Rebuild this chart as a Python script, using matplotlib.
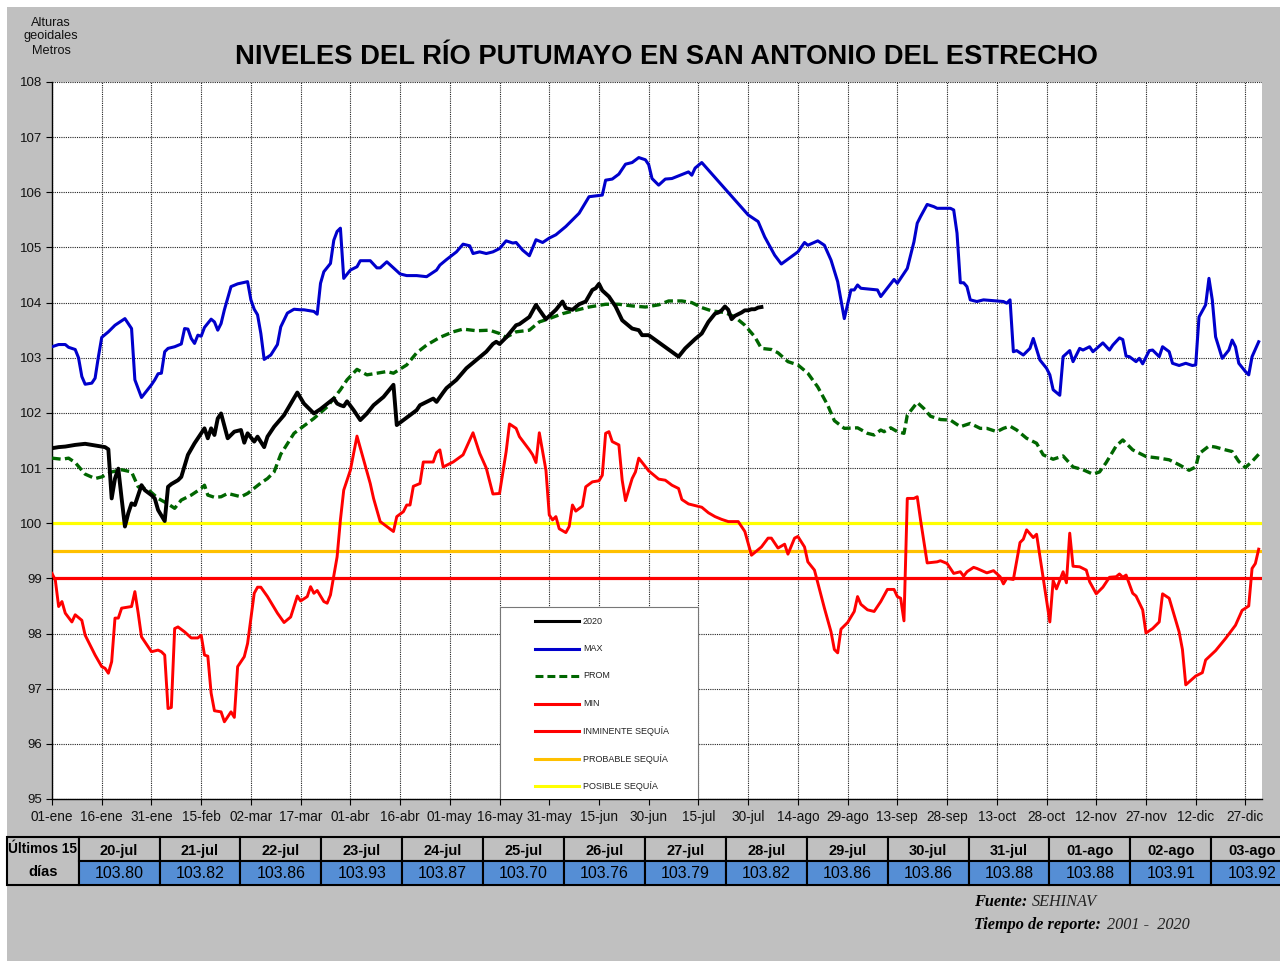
import matplotlib
matplotlib.use("Agg")
import matplotlib.pyplot as plt
from matplotlib.patches import Rectangle

plt.rcParams['font.family'] = ['Liberation Sans', 'DejaVu Sans']

# ---- data (day of year 0 = 01-ene, levels in metres) ----
tick_labels = ['01-ene', '16-ene', '31-ene', '15-feb', '02-mar', '17-mar', '01-abr', '16-abr',
               '01-may', '16-may', '31-may', '15-jun', '30-jun', '15-jul', '30-jul', '14-ago',
               '29-ago', '13-sep', '28-sep', '13-oct', '28-oct', '12-nov', '27-nov', '12-dic', '27-dic']

max_days = [0, 2, 4, 5, 7, 8, 9, 10, 12, 13, 14, 15, 17, 19, 22, 24, 25, 27, 30, 31, 32, 33, 34, 35, 37,
            39, 40, 41, 42, 43, 44, 45, 46, 48, 49, 50, 51, 52, 54, 56, 59, 60, 61, 62, 63, 64, 66, 68,
            69, 71, 73, 75, 76, 79, 80, 81, 82, 84, 85, 86, 87, 88, 90, 92, 93, 96, 98, 99, 101, 105,
            107, 110, 113, 116, 117, 119, 122, 124, 126, 127, 129, 131, 133, 135, 137, 139, 140, 142,
            144, 146, 148, 150, 152, 155, 159, 162, 166, 167, 169, 171, 173, 175, 177, 179, 180, 181,
            183, 185, 187, 192, 193, 194, 196, 210, 213, 215, 218, 220, 225, 227, 228, 231, 233, 235,
            237, 239, 241, 242, 243, 244, 249, 250, 254, 255, 258, 260, 261, 262, 264, 266, 267, 271,
            272, 273, 274, 275, 276, 277, 279, 281, 287, 288, 289, 290, 291, 293, 295, 296, 298, 300,
            301, 302, 304, 305, 307, 308, 310, 311, 313, 314, 317, 319, 320, 322, 323, 324, 325, 327,
            328, 329, 331, 332, 334, 335, 337, 338, 340, 342, 344, 345, 346, 348, 349, 350, 351, 353,
            355, 356, 357, 358, 360, 361, 362, 364]
max_vals = [103.20, 103.24, 103.24, 103.19, 103.15, 103.00, 102.66, 102.52, 102.54, 102.63, 103.02,
            103.37, 103.47, 103.59, 103.71, 103.53, 102.60, 102.28, 102.51, 102.60, 102.71, 102.72,
            103.11, 103.17, 103.20, 103.25, 103.53, 103.52, 103.35, 103.26, 103.41, 103.39, 103.55,
            103.70, 103.65, 103.50, 103.62, 103.87, 104.29, 104.34, 104.38, 104.05, 103.88, 103.78,
            103.44, 102.97, 103.05, 103.24, 103.56, 103.81, 103.88, 103.87, 103.87, 103.84, 103.79,
            104.35, 104.56, 104.71, 105.13, 105.29, 105.35, 104.44, 104.59, 104.65, 104.76, 104.76,
            104.63, 104.63, 104.74, 104.52, 104.49, 104.49, 104.47, 104.59, 104.68, 104.78, 104.92,
            105.06, 105.03, 104.89, 104.92, 104.89, 104.92, 104.98, 105.12, 105.08, 105.09, 104.95,
            104.85, 105.14, 105.09, 105.17, 105.23, 105.38, 105.62, 105.92, 105.95, 106.22, 106.24,
            106.33, 106.51, 106.54, 106.63, 106.59, 106.50, 106.25, 106.13, 106.24, 106.25, 106.37,
            106.31, 106.44, 106.54, 105.59, 105.47, 105.19, 104.86, 104.70, 104.92, 105.09, 105.04,
            105.12, 105.04, 104.77, 104.38, 103.71, 104.23, 104.23, 104.32, 104.26, 104.23, 104.11,
            104.42, 104.35, 104.62, 105.10, 105.44, 105.56, 105.78, 105.74, 105.71, 105.71, 105.68,
            105.26, 104.36, 104.36, 104.29, 104.05, 104.02, 104.05, 104.02, 103.99, 104.05, 103.11,
            103.13, 103.05, 103.17, 103.35, 102.96, 102.81, 102.69, 102.42, 102.32, 103.02, 103.13,
            102.93, 103.17, 103.14, 103.20, 103.11, 103.27, 103.14, 103.23, 103.36, 103.33, 103.03,
            103.02, 102.93, 102.99, 102.89, 103.13, 103.14, 103.02, 103.20, 103.11, 102.90, 102.86,
            102.90, 102.86, 102.87, 103.74, 103.96, 104.44, 104.05, 103.38, 102.99, 103.14, 103.32,
            103.20, 102.90, 102.75, 102.69, 103.02, 103.29]

prom_days = [0, 3, 5, 7, 10, 13, 15, 18, 21, 24, 26, 29, 32, 35, 37, 39, 42, 45, 46, 47, 49, 51, 53, 55,
             57, 59, 63, 65, 67, 69, 73, 75, 79, 83, 87, 89, 92, 95, 98, 101, 103, 107, 110, 113, 117,
             121, 124, 128, 132, 135, 137, 140, 144, 147, 150, 154, 158, 162, 167, 171, 175, 179, 183,
             186, 190, 193, 196, 199, 203, 206, 209, 212, 214, 217, 219, 222, 225, 228, 231, 234, 236,
             239, 243, 246, 248, 250, 251, 253, 255, 257, 258, 261, 263, 265, 268, 271, 274, 277, 280,
             282, 285, 287, 289, 291, 294, 297, 299, 302, 305, 308, 311, 314, 316, 318, 321, 323, 326,
             330, 334, 337, 340, 343, 345, 346, 349, 351, 354, 356, 358, 360, 362, 364]
prom_vals = [101.18, 101.16, 101.18, 101.10, 100.89, 100.81, 100.84, 100.93, 100.97, 100.93, 100.66,
             100.61, 100.45, 100.35, 100.27, 100.42, 100.51, 100.63, 100.69, 100.51, 100.47, 100.48,
             100.54, 100.51, 100.48, 100.54, 100.73, 100.81, 100.93, 101.25, 101.63, 101.72, 101.90,
             102.11, 102.42, 102.60, 102.79, 102.69, 102.72, 102.75, 102.72, 102.87, 103.09, 103.23,
             103.37, 103.47, 103.52, 103.49, 103.50, 103.44, 103.37, 103.47, 103.50, 103.65, 103.71,
             103.80, 103.86, 103.92, 103.97, 103.97, 103.94, 103.92, 103.96, 104.03, 104.03, 104.00,
             103.91, 103.85, 103.82, 103.74, 103.59, 103.38, 103.17, 103.15, 103.09, 102.93, 102.87,
             102.72, 102.47, 102.14, 101.86, 101.72, 101.73, 101.63, 101.60, 101.69, 101.66, 101.73,
             101.66, 101.63, 101.96, 102.19, 102.08, 101.94, 101.88, 101.87, 101.75, 101.81, 101.72,
             101.72, 101.66, 101.72, 101.76, 101.69, 101.54, 101.45, 101.24, 101.16, 101.22, 101.02,
             100.97, 100.89, 100.93, 101.10, 101.40, 101.51, 101.33, 101.21, 101.18, 101.15, 101.06,
             100.96, 101.02, 101.26, 101.40, 101.38, 101.33, 101.30, 101.12, 101.01, 101.12, 101.25]

min_days = [0, 1, 2, 3, 4, 6, 7, 9, 10, 13, 15, 16, 17, 18, 19, 20, 21, 24, 25, 26, 27, 30, 32, 33, 34,
            35, 36, 37, 38, 40, 42, 44, 45, 46, 47, 48, 49, 51, 52, 54, 55, 56, 58, 59, 61, 62, 63, 65,
            68, 70, 72, 74, 75, 77, 78, 79, 80, 82, 83, 84, 86, 87, 88, 90, 92, 94, 96, 97, 99, 101, 103,
            104, 106, 107, 108, 109, 111, 112, 115, 116, 117, 118, 121, 124, 127, 129, 131, 133, 135,
            137, 138, 140, 141, 144, 145, 146, 147, 149, 150, 151, 152, 153, 155, 156, 157, 158, 160,
            161, 163, 165, 166, 167, 168, 169, 171, 172, 173, 175, 176, 177, 180, 181, 183, 185, 187,
            189, 190, 192, 194, 196, 198, 200, 202, 204, 207, 209, 211, 214, 216, 217, 219, 221, 222,
            224, 225, 227, 228, 230, 233, 235, 236, 237, 238, 240, 242, 243, 244, 246, 248, 250, 252,
            254, 255, 256, 257, 258, 260, 261, 262, 264, 267, 268, 270, 272, 274, 275, 276, 278, 279,
            282, 284, 286, 287, 288, 290, 292, 293, 294, 296, 297, 301, 302, 303, 305, 306, 307, 308,
            310, 312, 313, 315, 317, 319, 321, 322, 323, 324, 326, 327, 329, 330, 332, 334, 335, 337,
            340, 341, 342, 345, 347, 348, 351, 354, 357, 359, 361, 362, 363, 364]
min_vals = [99.09, 98.97, 98.49, 98.58, 98.37, 98.21, 98.34, 98.24, 97.97, 97.61, 97.40, 97.37, 97.28,
            97.49, 98.28, 98.28, 98.46, 98.49, 98.76, 98.37, 97.94, 97.67, 97.70, 97.67, 97.61, 96.64,
            96.66, 98.09, 98.12, 98.03, 97.92, 97.92, 97.97, 97.61, 97.59, 96.92, 96.60, 96.58, 96.40,
            96.58, 96.48, 97.40, 97.58, 97.82, 98.73, 98.84, 98.84, 98.67, 98.37, 98.20, 98.30, 98.68,
            98.59, 98.67, 98.85, 98.73, 98.78, 98.58, 98.55, 98.70, 99.39, 100.06, 100.60, 100.96,
            101.58, 101.15, 100.72, 100.45, 100.03, 99.94, 99.85, 100.12, 100.21, 100.33, 100.33,
            100.67, 100.72, 101.11, 101.11, 101.28, 101.33, 101.02, 101.11, 101.24, 101.64, 101.27,
            101.00, 100.53, 100.54, 101.30, 101.80, 101.72, 101.57, 101.33, 101.24, 101.10, 101.64,
            100.96, 100.15, 100.06, 100.12, 99.90, 99.83, 99.94, 100.33, 100.22, 100.31, 100.66,
            100.75, 100.77, 100.87, 101.63, 101.66, 101.48, 101.42, 100.78, 100.41, 100.81, 100.93,
            101.18, 100.95, 100.90, 100.80, 100.78, 100.69, 100.63, 100.43, 100.35, 100.32, 100.29,
            100.19, 100.12, 100.07, 100.03, 100.03, 99.85, 99.42, 99.57, 99.73, 99.73, 99.55, 99.62,
            99.44, 99.73, 99.76, 99.57, 99.30, 99.15, 98.46, 98.03, 97.71, 97.65, 98.08, 98.20, 98.40,
            98.67, 98.53, 98.43, 98.40, 98.58, 98.80, 98.80, 98.67, 98.64, 98.23, 100.45, 100.45,
            100.48, 100.06, 99.28, 99.30, 99.32, 99.27, 99.09, 99.12, 99.04, 99.12, 99.20, 99.18,
            99.10, 99.14, 99.03, 98.90, 99.00, 98.98, 99.65, 99.71, 99.88, 99.74, 99.80, 98.21, 98.96,
            98.81, 99.12, 98.92, 99.82, 99.22, 99.21, 99.15, 98.94, 98.72, 98.84, 99.02, 99.03, 99.08,
            99.02, 99.06, 98.73, 98.68, 98.43, 98.01, 98.09, 98.21, 98.72, 98.64, 98.03, 97.71, 97.07,
            97.23, 97.29, 97.52, 97.69, 97.91, 98.15, 98.42, 98.50, 99.18, 99.27, 99.53]

# 2020 up to 19-jul, then the last 15 days from the table
y2020_days = [0, 2, 4, 7, 10, 13, 16, 17, 18, 19, 20, 21, 22, 23, 24, 25, 27, 28, 30, 31, 32, 34, 35, 36,
              38, 39, 41, 43, 46, 47, 48, 49, 50, 51, 53, 55, 57, 58, 59, 61, 62, 64, 65, 67, 70, 74, 76,
              79, 81, 85, 86, 87, 88, 89, 91, 93, 95, 97, 100, 103, 104, 106, 108, 110, 111, 113, 115,
              116, 118, 119, 122, 125, 128, 131, 133, 134, 135, 137, 140, 141, 144, 146, 147, 149, 152,
              154, 155, 157, 159, 161, 163, 164, 165, 166, 168, 170, 172, 175, 177, 178, 180, 189, 191,
              194, 196, 198]
y2020_vals = [101.36, 101.38, 101.39, 101.42, 101.44, 101.41, 101.38, 101.34, 100.45, 100.81, 100.99,
              100.45, 99.94, 100.18, 100.36, 100.33, 100.69, 100.60, 100.51, 100.45, 100.24, 100.04,
              100.66, 100.71, 100.78, 100.84, 101.24, 101.45, 101.72, 101.54, 101.72, 101.60, 101.90,
              101.99, 101.54, 101.66, 101.69, 101.46, 101.63, 101.48, 101.57, 101.38, 101.57, 101.75,
              101.96, 102.37, 102.17, 101.99, 102.07, 102.26, 102.17, 102.14, 102.12, 102.21, 102.05,
              101.87, 101.99, 102.14, 102.29, 102.51, 101.78, 101.87, 101.96, 102.05, 102.14, 102.20,
              102.26, 102.20, 102.37, 102.45, 102.60, 102.81, 102.96, 103.11, 103.25, 103.29, 103.25,
              103.37, 103.59, 103.61, 103.74, 103.96, 103.87, 103.70, 103.87, 104.02, 103.90, 103.87,
              103.97, 104.02, 104.23, 104.26, 104.34, 104.22, 104.11, 103.93, 103.68, 103.53, 103.50,
              103.41, 103.41, 103.02, 103.17, 103.34, 103.44, 103.65]

last_dates = ['20-jul', '21-jul', '22-jul', '23-jul', '24-jul', '25-jul', '26-jul', '27-jul',
              '28-jul', '29-jul', '30-jul', '31-jul', '01-ago', '02-ago', '03-ago']
last_days = list(range(200, 215))
last_vals = [103.80, 103.82, 103.86, 103.93, 103.87, 103.70, 103.76, 103.79,
             103.82, 103.86, 103.86, 103.88, 103.88, 103.91, 103.92]

inminente = 99.0
probable = 99.5
posible = 100.0

W, H = 1280, 961
def fx(x):
    return x / W
def fy(y):
    return 1 - y / H

fig = plt.figure(figsize=(12.8, 9.61), dpi=100, facecolor='white')
fig.patches.append(Rectangle((fx(7), 0), 1, fy(7), transform=fig.transFigure,
                             facecolor='#c0c0c0', edgecolor='none', zorder=-10))

ax = fig.add_axes([fx(52), fy(799), fx(1262) - fx(52), fy(82) - fy(799)])
ax.set_facecolor('white')

ax.axhline(posible, color='#ffff00', lw=2.3, zorder=2)
ax.axhline(probable, color='#ffc000', lw=2.3, zorder=2)
ax.axhline(inminente, color='#ff0000', lw=2.3, zorder=2)

ax.plot(min_days, min_vals, color='#ff0000', lw=2.1, zorder=3)
ax.plot(prom_days, prom_vals, color='#006600', lw=2.4, dashes=(2.6, 1.3), zorder=4)
ax.plot(max_days, max_vals, color='#0000cc', lw=2.2, zorder=5)
ax.plot(y2020_days + last_days, y2020_vals + last_vals, color='black', lw=2.8, zorder=6)

ax.set_xlim(0, 365)
ax.set_ylim(95, 108)
ax.set_xticks(range(0, 361, 15))
ax.set_xticklabels(tick_labels, fontsize=9.8, color='#111111')
ax.set_yticks(range(95, 109))
ax.tick_params(axis='y', labelsize=9.5, length=4, width=0.8, pad=3, labelcolor='#111111')
ax.tick_params(axis='x', length=4, width=0.8, pad=4)
ax.grid(True, color='#222222', linestyle=(0, (1, 1)), lw=0.8, zorder=1)
ax.set_axisbelow(True)
for s in ['top', 'right']:
    ax.spines[s].set_visible(False)
ax.spines['left'].set_linewidth(1.0)
ax.spines['bottom'].set_linewidth(1.0)

# legend box
def ax_x(x):
    return (x - 52) / 1210
def ax_y(y):
    return (799 - y) / 717

ax.add_patch(Rectangle((ax_x(500), 0), ax_x(698) - ax_x(500), ax_y(607), transform=ax.transAxes,
                       facecolor='white', edgecolor='#777777', lw=0.8, zorder=8))
legend_items = [('2020', 'black', '-'), ('MAX', '#0000cc', '-'), ('PROM', '#006600', '--'),
                ('MIN', '#ff0000', '-'), ('INMINENTE SEQUÍA', '#ff0000', '-'),
                ('PROBABLE SEQUÍA', '#ffc000', '-'), ('POSIBLE SEQUÍA', '#ffff00', '-')]
for i, (lab, col, ls) in enumerate(legend_items):
    yy = ax_y(621 + i * 27.5)
    kw = dict(dashes=(2.6, 1.3)) if ls == '--' else {}
    ax.plot([ax_x(535), ax_x(579)], [yy, yy], transform=ax.transAxes, color=col, lw=2.2,
            zorder=9, clip_on=False, **kw)
    ax.text(ax_x(583), yy, lab, transform=ax.transAxes, fontsize=6.5, va='center', ha='left',
            color='#222222', zorder=9)

# titles
fig.text(fx(666), fy(57), 'NIVELES DEL RÍO PUTUMAYO EN SAN ANTONIO DEL ESTRECHO',
         fontsize=19.7, fontweight='bold', ha='center', va='center')
for t, yy in zip(['Alturas', 'geoidales', 'Metros'], [23, 36, 51]):
    fig.text(fx(51), fy(yy), t, fontsize=9.2, ha='center', va='center', color='#111111')

# table of last 15 days
top, mid, bot = 837, 861, 885
col0, colw = 78.6, 80.9
fig.patches.append(Rectangle((fx(7), fy(bot)), fx(col0) - fx(7), fy(top) - fy(bot),
                             transform=fig.transFigure, facecolor='#c0c0c0', edgecolor='black', lw=1.5))
fig.text(fx(43), fy(849), 'Últimos 15', fontsize=9.8, fontweight='bold',
         ha='center', va='center')
fig.text(fx(43), fy(872), 'días', fontsize=10.5, fontweight='bold',
         ha='center', va='center')
for i, (d, v) in enumerate(zip(last_dates, last_vals)):
    x0 = col0 + i * colw
    fig.patches.append(Rectangle((fx(x0), fy(mid)), fx(colw), fy(top) - fy(mid),
                                 transform=fig.transFigure, facecolor='#c0c0c0', edgecolor='black', lw=1.5))
    fig.patches.append(Rectangle((fx(x0), fy(bot)), fx(colw), fy(mid) - fy(bot),
                                 transform=fig.transFigure, facecolor='#558ed5', edgecolor='black', lw=1.5))
    fig.text(fx(x0 + colw / 2), fy(850.5), d, fontsize=10.5, fontweight='bold',
             ha='center', va='center')
    fig.text(fx(x0 + colw / 2), fy(873.5), f'{v:.2f}', fontsize=11.5,
             ha='center', va='center')

# footer
serif = ['Liberation Serif', 'DejaVu Serif']
fig.text(fx(974), fy(902), 'Fuente:', fontsize=11.7, family=serif, style='italic',
         fontweight='bold', va='center')
fig.text(fx(1032), fy(902), 'SEHINAV', fontsize=11.7, family=serif, style='italic', va='center',
         color='#222222')
fig.text(fx(974), fy(925), 'Tiempo de reporte:', fontsize=11.7, family=serif, style='italic',
         fontweight='bold', va='center')
fig.text(fx(1107), fy(925), '2001 -  2020', fontsize=11.7, family=serif, style='italic',
         va='center', color='#222222')

fig.savefig('out.png', dpi=100, facecolor=fig.get_facecolor())
